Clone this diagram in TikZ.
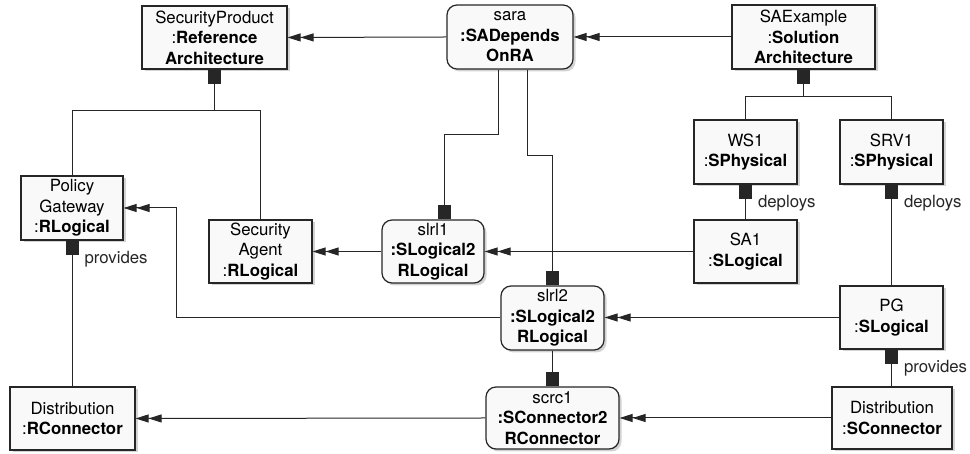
\documentclass[tikz,border=0pt]{standalone}
\usepackage{fontspec}
\setmainfont{TeX Gyre Heros}
\usetikzlibrary{arrows.meta,shadows}

\begin{document}
\begin{tikzpicture}[x=1pt,y=1pt,
    obj/.style={draw=black!85, line width=1.2pt, fill=gray!5, align=center, inner sep=0pt,
        font=\fontsize{16.8}{20.5}\selectfont,
        drop shadow={shadow xshift=2.5pt, shadow yshift=-2.5pt, opacity=0.35}},
    link/.style={obj, rounded corners=10pt},
    wire/.style={line width=1pt, black!85},
    twotip/.style={wire, -{Triangle[length=13pt,width=8pt]Triangle[length=13pt,width=8pt]}},
    ownfrom/.style={wire, {Square[length=14pt,width=13pt]}-},
    ownto/.style={wire, -{Square[length=14pt,width=13pt]}},
    role/.style={anchor=north west, inner sep=0pt, xshift=12pt, yshift=-10pt,
        font=\fontsize{16.8}{20}\selectfont}]
    \useasboundingbox (0,0) rectangle (970,454);

    % top row
    \node[obj, minimum width=145pt, minimum height=63pt] (ref) at (214.5,416.5)
        {SecurityProduct\\:\textbf{Reference}\\\textbf{Architecture}};
    \node[link, minimum width=126pt, minimum height=64pt] (sara) at (510,417)
        {sara\\\textbf{:SADepends}\\\textbf{OnRA}};
    \node[obj, minimum width=143pt, minimum height=64pt] (saex) at (803.5,417)
        {SAExample\\:\textbf{Solution}\\\textbf{Architecture}};

    % solution side
    \node[obj, minimum width=103pt, minimum height=64pt] (ws1) at (745.5,302) {WS1\\:\textbf{SPhysical}};
    \node[obj, minimum width=103pt, minimum height=64pt] (srv1) at (891.5,302) {SRV1\\:\textbf{SPhysical}};
    \node[obj, minimum width=103pt, minimum height=63pt] (sa1) at (745.5,202.5) {SA1\\:\textbf{SLogical}};
    \node[obj, minimum width=103pt, minimum height=63pt] (pg) at (891.5,136.5) {PG\\:\textbf{SLogical}};
    \node[obj, minimum width=120pt, minimum height=62pt] (dsc) at (892,36) {Distribution\\:\textbf{SConnector}};

    % mappings
    \node[link, minimum width=102pt, minimum height=63pt] (slrl1) at (433,202.5)
        {slrl1\\\textbf{:SLogical2}\\\textbf{RLogical}};
    \node[link, minimum width=103pt, minimum height=64pt] (slrl2) at (552.5,136)
        {slrl2\\\textbf{:SLogical2}\\\textbf{RLogical}};
    \node[link, minimum width=133pt, minimum height=62pt] (scrc1) at (552.5,36)
        {scrc1\\\textbf{:SConnector2}\\\textbf{RConnector}};

    % reference side
    \node[obj, minimum width=103pt, minimum height=63pt] (secag) at (260.5,202.5)
        {Security\\Agent\\:\textbf{RLogical}};
    \node[obj, minimum width=102pt, minimum height=64pt] (polgw) at (72,246)
        {Policy\\Gateway\\:\textbf{RLogical}};
    \node[obj, minimum width=125pt, minimum height=63pt] (drc) at (72.5,35.5)
        {Distribution\\:\textbf{RConnector}};

    % containment
    \draw[ownfrom] (ref.south) -- ++(0,-41) coordinate (refbus);
    \draw[wire] (polgw.north) |- (refbus) -| (secag.north);
    \draw[ownfrom] (saex.south) -- ++(0,-27) coordinate (saexbus);
    \draw[wire] (ws1.north) |- (saexbus) -| (srv1.north);

    \draw[ownfrom] (ws1.south) -- (sa1.north) node[role, pos=0] {deploys};
    \draw[ownfrom] (srv1.south) -- (pg.north) node[role, pos=0] {deploys};
    \draw[ownfrom] (pg.south) -- (pg.south |- dsc.north) node[role, pos=0] {provides};
    \draw[ownfrom] (polgw.south) -- (polgw.south |- drc.north) node[role, pos=0] {provides};

    \draw[ownto] ([xshift=-12pt]sara.south) -- ++(0,-65) -| ([xshift=11pt]slrl1.north);
    \draw[ownto] ([xshift=17pt]sara.south) -- ++(0,-86) -| (slrl2.north);
    \draw[ownto] (slrl2.south) -- (scrc1.north);

    % dependencies
    \draw[twotip] (sara.west) -- (ref.east);
    \draw[twotip] (saex.west) -- (sara.east);
    \draw[twotip] (sa1.west) -- (slrl1.east);
    \draw[twotip] (slrl1.west) -- (secag.east);
    \draw[twotip] (pg.west) -- (pg.west -| slrl2.east);
    \draw[twotip] (slrl2.west) -- ++(-324,0) |- (polgw.east);
    \draw[twotip] (dsc.west) -- (scrc1.east);
    \draw[twotip] (scrc1.west) -- (drc.east);
\end{tikzpicture}
\end{document}
